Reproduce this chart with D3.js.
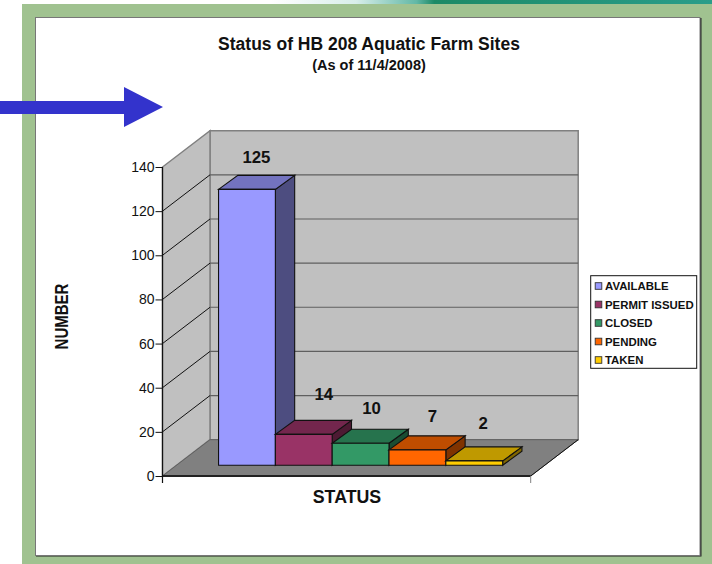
<!DOCTYPE html>
<html><head><meta charset="utf-8">
<script src="https://cdnjs.cloudflare.com/ajax/libs/d3/7.8.5/d3.min.js"></script>
<style>html,body{margin:0;padding:0;background:#fff}svg{display:block}text{font-family:"Liberation Sans",Arial,sans-serif;fill:#111}</style>
</head><body><svg id="c" width="712" height="564"></svg>
<script>
const titleText = "Status of HB 208 Aquatic Farm Sites";
const subtitleText = "(As of 11/4/2008)";
const yAxisLabel = "NUMBER";
const xAxisLabel = "STATUS";
const categories = ["AVAILABLE","PERMIT ISSUED","CLOSED","PENDING","TAKEN"];
const values = [125,14,10,7,2];
const colors = ["#9999ff","#993366","#339966","#ff6600","#ffcc00"];
const yTicks = [0,20,40,60,80,100,120,140];
// hand-placed data labels in the original: nudge from each bar's top centre
const labelDx = [9.5,20,11,15,9];
const labelDy = [-26,-34.7,-29,-27.6,-31.7];

const svg = d3.select("#c");
const defs = svg.append("defs");
const grad = defs.append("linearGradient").attr("id","strip");
[[0,"#ffffff"],[0.38,"#ffffff"],[0.5,"#d8eeea"],[0.585,"#62b8a6"],[0.61,"#1c8a66"],[1,"#2a9d8a"]].forEach(s=>grad.append("stop").attr("offset",s[0]).attr("stop-color",s[1]));

// slide background
svg.append("rect").attr("x",0).attr("y",0).attr("width",712).attr("height",5).attr("fill","url(#strip)");
svg.append("rect").attr("x",22).attr("y",4).attr("width",690).attr("height",560).attr("fill","#a0c290");
svg.append("rect").attr("x",36).attr("y",18).attr("width",665.5).attr("height",538.5).attr("fill","#222");
svg.append("rect").attr("x",35.5).attr("y",17.5).attr("width",664.5).attr("height",538).attr("fill","#fff").attr("stroke","#777").attr("stroke-width",1);

// 3D frame
const y = d3.scaleLinear().domain([0,140]).range([476,167]);
const frontL = 162.5, frontR = 530.7, depthX = 47.5, depthY = -36.3;
const barDepthX = 19.3, barDepthY = -14, baseDepthX = 14, baseDepthY = -10.7;
const x = d3.scaleBand().domain(categories).range([frontL+baseDepthX, frontR+baseDepthX]).paddingInner(0).paddingOuter(0.74);
const line = d3.line();
const poly = (pts,fill,stroke,w)=>svg.append("path").attr("d",line(pts)+"Z").attr("fill",fill).attr("stroke",stroke||"none").attr("stroke-width",w||0);

poly([[frontL+depthX,y(140)+depthY],[frontR+depthX,y(140)+depthY],[frontR+depthX,y(0)+depthY],[frontL+depthX,y(0)+depthY]],"#c0c0c0","#808080",1.5);
poly([[frontL,y(0)],[frontL+depthX,y(0)+depthY],[frontL+depthX,y(140)+depthY],[frontL,y(140)]],"#c0c0c0","#808080",1.5);
poly([[frontL,y(0)],[frontR,y(0)],[frontR+depthX,y(0)+depthY],[frontL+depthX,y(0)+depthY]],"#808080","#606060",1);
svg.append("path").attr("d",line([[frontR,y(0)],[frontR+depthX,y(0)+depthY]])).attr("stroke","#111").attr("fill","none");

yTicks.filter(t=>t>0).forEach(t=>{
  svg.append("path").attr("d",line([[frontL,y(t)],[frontL+depthX,y(t)+depthY]])).attr("stroke","#111").attr("fill","none").attr("stroke-width",t===140?0:1);
  if(t<140) svg.append("path").attr("d",line([[frontL+depthX,y(t)+depthY],[frontR+depthX,y(t)+depthY]])).attr("stroke","#5f5f5f").attr("fill","none").attr("stroke-width",1.2);
});

// front axes
svg.append("path").attr("d",line([[frontL,y(0)],[frontR,y(0)]])).attr("stroke","#222").attr("stroke-width",2).attr("fill","none");
svg.append("path").attr("d",line([[frontR,y(0)],[frontR,y(0)+7]])).attr("stroke","#808080").attr("fill","none");
const axis = d3.axisLeft(y).tickValues(yTicks).tickSize(7).tickPadding(1);
const gy = svg.append("g").attr("transform",`translate(${frontL},0)`).call(axis);
gy.selectAll("path.domain").attr("stroke","#111").attr("stroke-width",1.2).attr("d",line([[0,y(140)],[0,y(0)+7]]));
gy.selectAll(".tick line").attr("stroke","#111");
gy.selectAll("text").style("font-size","14px").style("font-family",'"Liberation Sans",Arial,sans-serif').attr("fill","#222");

// bars
const shade = (c,k)=>{const r=d3.rgb(c);return d3.rgb(r.r*k,r.g*k,r.b*k).formatHex();};
categories.forEach((c,i)=>{
  const x0=x(c), x1=x0+x.bandwidth(), yb=y(0)+baseDepthY, yt=y(values[i])+baseDepthY;
  const edge="#111";
  poly([[x1,yb],[x1+barDepthX,yb+barDepthY],[x1+barDepthX,yt+barDepthY],[x1,yt]],shade(colors[i],0.5),edge,1.1);
  poly([[x0,yt],[x1,yt],[x1+barDepthX,yt+barDepthY],[x0+barDepthX,yt+barDepthY]],shade(colors[i],0.75),edge,1.1);
  poly([[x0,yb],[x1,yb],[x1,yt],[x0,yt]],colors[i],edge,1.1);
});
categories.forEach((c,i)=>{
  svg.append("text").attr("x",x(c)+x.bandwidth()/2+labelDx[i]).attr("y",y(values[i])+baseDepthY+labelDy[i])
    .attr("text-anchor","middle").style("font-size","16.8px").style("font-weight","bold").text(values[i]);
});

// titles
svg.append("text").attr("x",369).attr("y",50).attr("text-anchor","middle").style("font-size","17.5px").style("font-weight","bold").text(titleText);
svg.append("text").attr("x",369).attr("y",70).attr("text-anchor","middle").style("font-size","14.5px").style("font-weight","bold").text(subtitleText);
svg.append("text").attr("x",347).attr("y",503).attr("text-anchor","middle").style("font-size","17.8px").style("font-weight","bold").text(xAxisLabel);
svg.append("text").attr("transform","translate(68,316.5) rotate(-90) scale(1,1.25)").attr("text-anchor","middle").style("font-size","15px").style("font-weight","bold").text(yAxisLabel);

// legend
const ly = d3.scalePoint().domain(categories).range([286,360]);
svg.append("rect").attr("x",590.7).attr("y",275.7).attr("width",106).attr("height",92.6).attr("fill","#fff").attr("stroke","#111").attr("stroke-width",1);
categories.forEach((c,i)=>{
  svg.append("rect").attr("x",595.2).attr("y",ly(c)-3.3).attr("width",6.6).attr("height",6.6).attr("fill",colors[i]).attr("stroke","#333").attr("stroke-width",0.9);
  svg.append("text").attr("x",605).attr("y",ly(c)+4).style("font-size","11.4px").style("font-weight","bold").text(c);
});

// arrow
svg.append("path").attr("d",line([[0,101],[124,101],[124,87],[163,107],[124,127],[124,114],[0,114]])+"Z").attr("fill","#3333cc");
</script></body></html>
